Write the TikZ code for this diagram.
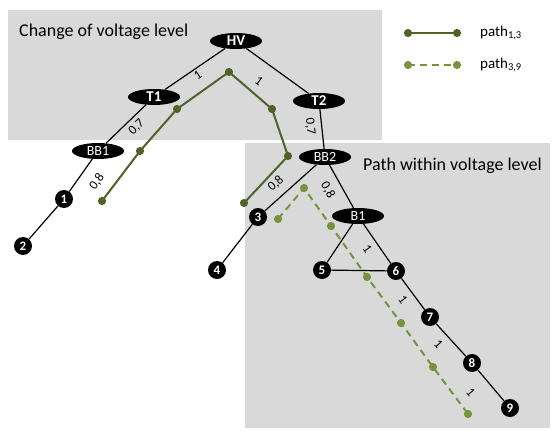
\documentclass[tikz,border=0pt]{standalone}
\usepackage{fontspec}
\setmainfont{Carlito}
\usetikzlibrary{shapes.geometric}
\definecolor{boxgray}{HTML}{D9D9D9}
\definecolor{pathdark}{HTML}{4F6228}
\definecolor{pathlight}{HTML}{77933C}
\begin{document}
\begin{tikzpicture}[x=1pt,y=-1pt,
  bus/.style={ellipse,fill=black,text=white,inner sep=0pt,minimum width=52pt,minimum height=16pt,font=\fontsize{14}{14}\selectfont},
  busb/.style={bus,font=\fontsize{15}{15}\selectfont\bfseries},
  point/.style={circle,fill=black,text=white,inner sep=0pt,minimum size=18pt,font=\fontsize{13}{13}\selectfont\bfseries},
  wire/.style={line width=1.2pt},
  wt/.style={sloped,inner sep=2pt,font=\fontsize{13}{13}\selectfont},
  path13/.style={pathdark,line width=2pt},
  path39/.style={pathlight,line width=2pt,dash pattern=on 7pt off 5pt}]
\useasboundingbox (0,0) rectangle (552,431);

% shaded areas
\fill[boxgray] (8,10) rectangle (382,140);
\fill[boxgray] (245,143) rectangle (550,428);
\node[anchor=west,inner sep=0pt,font=\fontsize{18}{18}\selectfont] (lvlchange) at (19,32) {Change of voltage level};
\node[anchor=west,inner sep=0pt,font=\fontsize{18}{18}\selectfont] (lvlwithin) at (363,166) {Path within voltage level};

% network
\node[busb] (HV) at (236,41) {HV};
\node[busb] (T1) at (154,97) {T1};
\node[busb] (T2) at (319,101) {T2};
\node[bus] (BB1) at (98,151) {BB1};
\node[bus] (BB2) at (325,157) {BB2};
\node[bus] (B1) at (358,216) {B1};
\node[point] (n1) at (64,199) {1};
\node[point] (n2) at (23,246) {2};
\node[point] (n3) at (258,217) {3};
\node[point] (n4) at (217,270) {4};
\node[point] (n5) at (322,270) {5};
\node[point] (n6) at (396,271) {6};
\node[point] (n7) at (430,317) {7};
\node[point] (n8) at (472,363) {8};
\node[point] (n9) at (510,408) {9};

\draw[wire] (HV) -- node[wt,pos=0.52,below] {1} (T1);
\draw[wire] (HV) -- node[wt,pos=0.38,below=12pt] {1} (T2);
\draw[wire] (T1) -- node[wt,pos=0.4,below=2pt] {0,7} (BB1);
\draw[wire] (BB1) -- node[wt,pos=0.4,below=9pt] {0,8} (n1);
\draw[wire] (n1) -- (n2);
\draw[wire] (T2) -- node[wt,pos=0.4,below=4pt] {0,7} (BB2);
\draw[wire] (BB2) -- node[wt,pos=0.62,above=5pt] {0,8} (n3);
\draw[wire] (n3) -- (n4);
\draw[wire] (BB2) -- node[wt,pos=0.43,below=6pt] {0,8} (B1);
\draw[wire] (B1) -- (n5);
\draw[wire] (B1) -- node[wt,pos=0.47,below=4pt] {1} (n6);
\draw[wire] (n5) -- (n6);
\draw[wire] (n6) -- node[wt,pos=0.47,below=5pt] {1} (n7);
\draw[wire] (n7) -- node[wt,pos=0.37,below=5pt] {1} (n8);
\draw[wire] (n8) -- node[wt,pos=0.3,below=13pt] {1} (n9);

% the two paths
\draw[path13] plot[mark=*,mark size=3pt] coordinates {(102,201) (140,151) (177,109) (229,72) (272,109) (288,156) (244,203)};
\draw[path39] plot[mark=*,mark size=3pt,mark options={solid}] coordinates {(278,219) (304,188) (331,226) (367,277) (401,323) (433,367) (468,414)};

% legend
\coordinate (leg1a) at (408,33);
\coordinate (leg1b) at (457,33);
\coordinate (leg2a) at (408,65);
\coordinate (leg2b) at (457,65);
\draw[path13] plot[mark=*,mark size=3pt] coordinates {(leg1a) (leg1b)};
\draw[path39] plot[mark=*,mark size=3pt,mark options={solid}] coordinates {(leg2a) (leg2b)};
\node[anchor=west,inner sep=0pt,font=\fontsize{15}{15}\selectfont] (key13) at (480,33) {path\textsubscript{1,3}};
\node[anchor=west,inner sep=0pt,font=\fontsize{15}{15}\selectfont] (key39) at (480,65) {path\textsubscript{3,9}};
\end{tikzpicture}
\end{document}
